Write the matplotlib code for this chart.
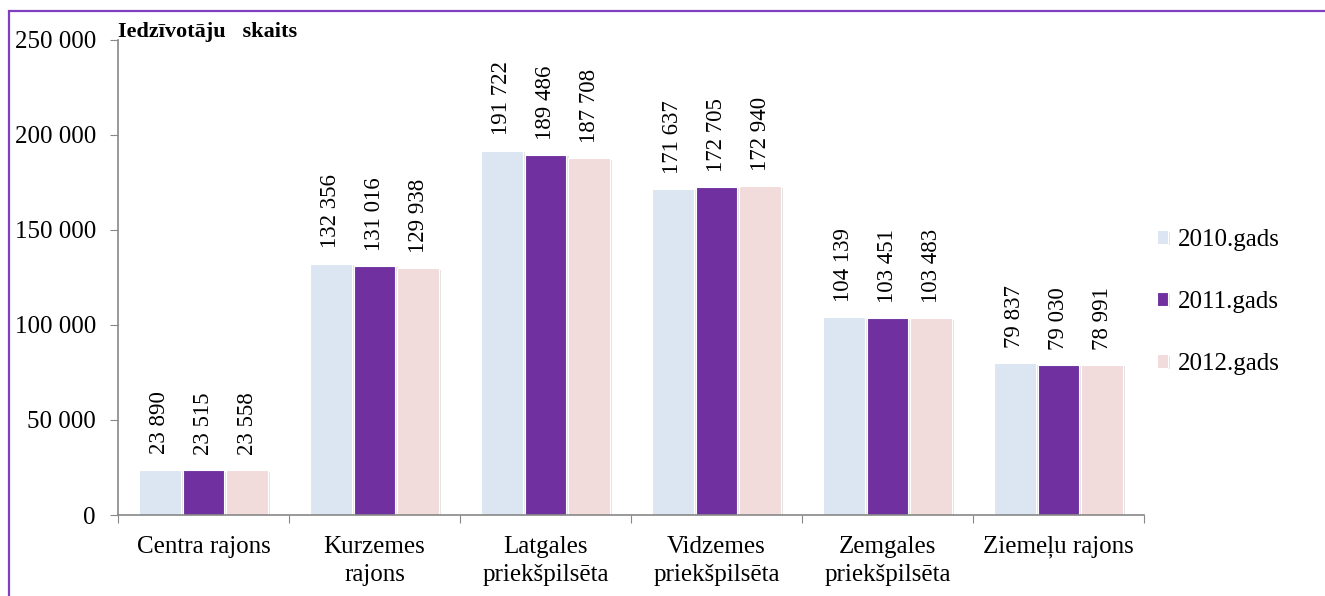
import matplotlib
matplotlib.use("Agg")
import matplotlib.pyplot as plt
from matplotlib.patches import Rectangle
import matplotlib.patheffects as pe
import numpy as np

categories = ["Centra rajons", "Kurzemes\nrajons", "Latgales\npriekšpilsēta",
              "Vidzemes\npriekšpilsēta", "Zemgales\npriekšpilsēta", "Ziemeļu rajons"]
series_names = ["2010.gads", "2011.gads", "2012.gads"]
v2010 = [23890, 132356, 191722, 171637, 104139, 79837]
v2011 = [23515, 131016, 189486, 172705, 103451, 79030]
v2012 = [23558, 129938, 187708, 172940, 103483, 78991]
yticks = [0, 50000, 100000, 150000, 200000, 250000]
colors = ["#DCE6F2", "#7030A0", "#F2DCDB"]

plt.rcParams['font.family'] = ['Liberation Serif', 'DejaVu Serif']

def fmt(v):
    return f"{v:,}".replace(",", " ")

W, H = 1325, 596
fig = plt.figure(figsize=(W/100, H/100), dpi=100)
ax = fig.add_axes([118/W, 1-515/H, (1144-118)/W, (515-40)/H])

x = np.arange(len(categories))
bw = 0.245
offsets = [-bw-0.012, 0, bw+0.012]
shadow = [pe.SimplePatchShadow(offset=(1.5, -1.0), shadow_rgbFace="#b0b0b0", alpha=0.35), pe.Normal()]
for vals, off, col, name in zip([v2010, v2011, v2012], offsets, colors, series_names):
    bars = ax.bar(x + off, vals, bw, color=col, edgecolor="white", linewidth=0.8,
                  label=name, zorder=2)
    for b in bars:
        b.set_path_effects(shadow)
    for b, v in zip(bars, vals):
        ax.annotate(fmt(v), (b.get_x()+b.get_width()/2, v), xytext=(0, 11),
                    textcoords="offset points", rotation=90, ha="center", va="bottom",
                    fontsize=16.5)

ax.set_xlim(-0.5, len(categories)-0.5)
ax.set_ylim(0, 250000)
ax.set_yticks(yticks)
ax.set_yticklabels([fmt(t) for t in yticks], fontsize=18)
ax.set_xticks(np.arange(len(categories)+1)-0.5, minor=False)
ax.set_xticklabels([])
ax.set_xticks(x, minor=True)
ax.set_xticklabels(categories, minor=True, fontsize=18, linespacing=1.35)
ax.tick_params(axis='x', which='minor', length=0, pad=15)
ax.tick_params(axis='x', which='major', length=6, color="#888888", direction='out')
ax.tick_params(axis='y', length=6, color="#888888", pad=10)
for s in ["top", "right"]:
    ax.spines[s].set_visible(False)
for s in ["left", "bottom"]:
    ax.spines[s].set_color("#888888")
    ax.spines[s].set_linewidth(1.2)

fig.text(118/W, 1-32/H, "Iedzīvotāju   skaits", fontsize=16, fontweight="bold",
         ha="left", va="center")

leg = fig.legend(loc="center left", bbox_to_anchor=(1157/W, 1-302/H), frameon=False,
                 fontsize=18, handlelength=0.45, handleheight=0.45, borderpad=0,
                 borderaxespad=0, labelspacing=1.6, handletextpad=0.4)

fig.patches.append(Rectangle((9/W, -0.05), 1.1, 1-11/H+0.05, transform=fig.transFigure,
                             fill=False, edgecolor="#7F3FBF", linewidth=1.6))

fig.savefig("out.png", dpi=100)
